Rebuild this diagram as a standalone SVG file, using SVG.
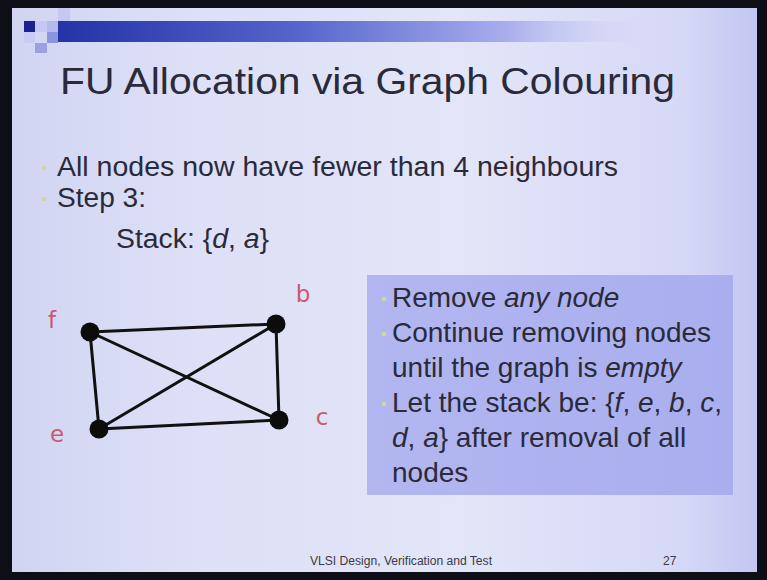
<svg xmlns="http://www.w3.org/2000/svg" width="767" height="580" viewBox="0 0 767 580">
<defs>
<linearGradient id="bg" x1="0" y1="0" x2="1" y2="0">
<stop offset="0" stop-color="#d2d5f2"/>
<stop offset="0.25" stop-color="#dde0f6"/>
<stop offset="0.6" stop-color="#e3e5f8"/>
<stop offset="0.9" stop-color="#d6d9f6"/>
<stop offset="1" stop-color="#c2c6f2"/>
</linearGradient>
<linearGradient id="bar" x1="0" y1="0" x2="1" y2="0">
<stop offset="0" stop-color="#2433a6"/>
<stop offset="0.4" stop-color="#5565cc"/>
<stop offset="0.75" stop-color="#a9aeee"/>
<stop offset="1" stop-color="#d8dbf6" stop-opacity="0"/>
</linearGradient>
<linearGradient id="box" x1="0" y1="0" x2="1" y2="0">
<stop offset="0" stop-color="#b3b7f0"/>
<stop offset="0.5" stop-color="#adb2ef"/>
<stop offset="1" stop-color="#a9aeee"/>
</linearGradient>
<style>
.txt{font-family:"Liberation Sans",Arial,sans-serif;fill:#2a2a3a}
.title{font-size:37px}
.body{font-size:27px}
.boxt{font-size:28px}
.lbl{font-family:"DejaVu Sans","Liberation Sans",sans-serif;font-size:23px;fill:#c85a70}
.edge{stroke:#111;stroke-width:3;fill:none;stroke-linecap:round}
.node{fill:#0c0c0c}
.bul{fill:#cfd898}
.foot{font-family:"Liberation Sans",Arial,sans-serif;font-size:12px;fill:#3a3a4a}
</style>
</defs>
<rect x="0" y="0" width="767" height="580" fill="#0e0e16"/>
<rect x="12" y="8" width="745" height="564" fill="url(#bg)"/>
<!-- header decoration -->
<rect x="58" y="21" width="600" height="21" fill="url(#bar)"/>
<rect x="24" y="21" width="11" height="11" fill="#1c2090"/>
<rect x="35" y="21" width="12" height="11" fill="#c4c8f2"/>
<rect x="47" y="32" width="11" height="11" fill="#8c93df"/>
<rect x="35" y="43" width="12" height="10" fill="#9aa0e2"/>
<rect x="58" y="8" width="12" height="13" fill="#c4c8f2"/>
<rect x="47" y="21" width="11" height="11" fill="#b4b9ee"/>
<rect x="24" y="32" width="11" height="11" fill="#c8ccf2"/>
<g id="title"><text class="txt title" x="60" y="94" textLength="615" lengthAdjust="spacingAndGlyphs">FU Allocation via Graph Colouring</text></g>
<g id="bullets">
<rect class="bul" x="42" y="166" width="4" height="4"/>
<text class="txt body" x="57" y="176" textLength="561" lengthAdjust="spacingAndGlyphs">All nodes now have fewer than 4 neighbours</text>
<rect class="bul" x="42" y="197" width="4" height="4"/>
<text class="txt body" x="57" y="207" textLength="89" lengthAdjust="spacingAndGlyphs">Step 3:</text>
<text class="txt body" x="116" y="248" textLength="153" lengthAdjust="spacingAndGlyphs">Stack: {<tspan font-style="italic">d</tspan>, <tspan font-style="italic">a</tspan>}</text>
</g>
<g id="connectors">
<line class="edge" x1="90" y1="332" x2="276" y2="324"/>
<line class="edge" x1="90" y1="332" x2="99" y2="429"/>
<line class="edge" x1="90" y1="332" x2="279" y2="420"/>
<line class="edge" x1="276" y1="324" x2="99" y2="429"/>
<line class="edge" x1="276" y1="324" x2="279" y2="420"/>
<line class="edge" x1="99" y1="429" x2="279" y2="420"/>
</g>
<g id="node-f"><circle class="node" cx="90" cy="332" r="9.5"/><text class="lbl" x="52" y="328" text-anchor="middle">f</text></g>
<g id="node-b"><circle class="node" cx="276" cy="324" r="9.5"/><text class="lbl" x="303" y="302" text-anchor="middle">b</text></g>
<g id="node-c"><circle class="node" cx="279" cy="420" r="9.5"/><text class="lbl" x="322" y="425" text-anchor="middle">c</text></g>
<g id="node-e"><circle class="node" cx="99" cy="429" r="9.5"/><text class="lbl" x="57" y="442" text-anchor="middle">e</text></g>
<g id="note">
<rect x="367" y="275" width="366" height="220" fill="url(#box)"/>
<rect class="bul" x="382" y="297" width="4" height="4"/>
<text class="txt boxt" x="392" y="307">Remove <tspan font-style="italic">any node</tspan></text>
<rect class="bul" x="382" y="332" width="4" height="4"/>
<text class="txt boxt" x="392" y="342">Continue removing nodes</text>
<text class="txt boxt" x="392" y="377">until the graph is <tspan font-style="italic">empty</tspan></text>
<rect class="bul" x="382" y="402" width="4" height="4"/>
<text class="txt boxt" x="392" y="412">Let the stack be: {<tspan font-style="italic">f</tspan>, <tspan font-style="italic">e</tspan>, <tspan font-style="italic">b</tspan>, <tspan font-style="italic">c</tspan>,</text>
<text class="txt boxt" x="392" y="447"><tspan font-style="italic">d</tspan>, <tspan font-style="italic">a</tspan>} after removal of all</text>
<text class="txt boxt" x="392" y="482">nodes</text>
</g>
<g id="footer">
<text class="foot" x="310" y="565" textLength="182" lengthAdjust="spacingAndGlyphs">VLSI Design, Verification and Test</text>
<text class="foot" x="663" y="565">27</text>
</g>
</svg>
